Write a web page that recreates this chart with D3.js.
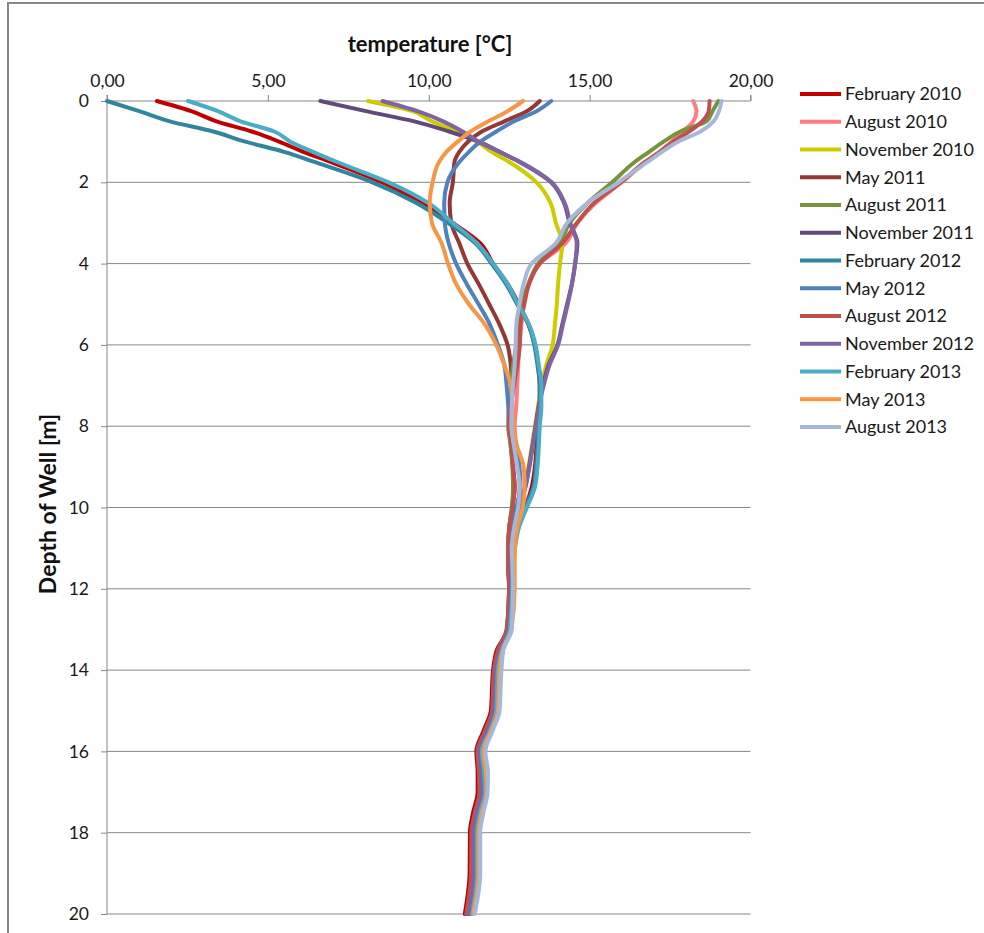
<!DOCTYPE html>
<html>
<head>
<meta charset="utf-8">
<script src="https://cdn.jsdelivr.net/npm/d3@7"></script>
<style>
  html, body { margin: 0; padding: 0; background: #fff; }
  svg { display: block; font-family: Lato, "Open Sans", sans-serif; }
</style>
</head>
<body>
<svg id="chart" width="984" height="933"></svg>
<script>
  // depth of each reading, m
  var depths = [0, 0.25, 0.5, 0.75, 1, 1.25, 1.5, 2, 2.5, 3,
    3.5, 4, 4.5, 5, 5.5, 6, 6.5, 7, 7.5, 8,
    8.5, 9, 9.5, 10, 10.5, 11, 11.5, 12, 13, 13.5,
    14, 15, 15.5, 16, 16.5, 17, 17.5, 18, 19, 20];

  // temperature per depth, °C
  var feb2010 = [1.55, 2.62, 3.4, 4.5, 5.35, 6.1, 6.95, 8.55, 9.75, 10.75,
    11.6, 12.0, 12.45, 12.8, 13.1, 13.3, 13.4, 13.45, 13.45, 13.4,
    13.35, 13.3, 13.2, 13.0, 12.75, 12.6, 12.55, 12.5, 12.45, 12.12,
    12.0, 11.93, 11.7, 11.48, 11.52, 11.52, 11.38, 11.28, 11.27, 11.12];
  var aug2010 = [18.22, 18.32, 18.22, 17.9, 17.55, 17.18, 16.75, 16.0, 15.2, 14.62,
    14.25, 13.45, 13.1, 12.95, 12.88, 12.82, 12.78, 12.75, 12.72, 12.67,
    12.72, 12.8, 12.82, 12.75, 12.6, 12.55, 12.57, 12.58, 12.5, 12.25,
    12.12, 12.06, 11.85, 11.6, 11.67, 11.68, 11.55, 11.45, 11.44, 11.28];
  var nov2010 = [8.11, 9.5, 10.1, 10.9, 11.5, 11.95, 12.5, 13.35, 13.78, 13.95,
    14.15, 14.08, 14.02, 13.98, 13.92, 13.85, 13.65, 13.5, 13.4, 13.3,
    13.2, 13.1, 12.98, 12.8, 12.62, 12.57, 12.56, 12.56, 12.48, 12.22,
    12.08, 12.02, 11.8, 11.56, 11.62, 11.64, 11.5, 11.4, 11.39, 11.23];
  var may2011 = [13.45, 13.05, 12.35, 11.65, 11.22, 10.95, 10.8, 10.75, 10.65, 10.7,
    10.95, 11.2, 11.55, 11.88, 12.2, 12.45, 12.55, 12.58, 12.55, 12.52,
    12.55, 12.62, 12.67, 12.6, 12.5, 12.47, 12.47, 12.5, 12.42, 12.15,
    12.03, 11.97, 11.74, 11.52, 11.56, 11.57, 11.43, 11.32, 11.31, 11.16];
  var aug2011 = [19.0, 18.82, 18.63, 17.82, 17.3, 16.85, 16.4, 15.7, 14.95, 14.38,
    14.07, 13.4, 13.1, 12.88, 12.8, 12.72, 12.62, 12.55, 12.5, 12.47,
    12.55, 12.6, 12.62, 12.58, 12.5, 12.47, 12.48, 12.52, 12.44, 12.18,
    12.05, 11.99, 11.76, 11.54, 11.58, 11.6, 11.45, 11.35, 11.34, 11.18];
  var nov2011 = [6.63, 8.05, 9.55, 10.63, 11.55, 12.2, 12.82, 13.8, 14.2, 14.38,
    14.62, 14.55, 14.45, 14.3, 14.15, 14.0, 13.72, 13.55, 13.42, 13.32,
    13.22, 13.12, 13.0, 12.8, 12.6, 12.55, 12.55, 12.55, 12.47, 12.2,
    12.07, 12.01, 11.78, 11.55, 11.6, 11.62, 11.47, 11.37, 11.36, 11.2];
  var feb2012 = [0.0, 1.0, 1.95, 3.3, 4.3, 5.5, 6.45, 8.25, 9.6, 10.6,
    11.45, 11.95, 12.4, 12.75, 13.1, 13.28, 13.38, 13.45, 13.45, 13.4,
    13.38, 13.33, 13.25, 13.0, 12.78, 12.65, 12.6, 12.57, 12.5, 12.25,
    12.1, 12.05, 11.85, 11.6, 11.65, 11.7, 11.55, 11.45, 11.45, 11.3];
  var may2012 = [13.81, 13.35, 12.65, 12.1, 11.6, 11.25, 10.95, 10.58, 10.48, 10.5,
    10.62, 10.85, 11.18, 11.55, 11.9, 12.15, 12.35, 12.42, 12.47, 12.5,
    12.67, 12.82, 12.85, 12.72, 12.6, 12.55, 12.55, 12.57, 12.5, 12.24,
    12.12, 12.06, 11.84, 11.6, 11.66, 11.68, 11.54, 11.44, 11.43, 11.27];
  var aug2012 = [18.73, 18.7, 18.5, 18.1, 17.6, 17.18, 16.72, 15.97, 15.15, 14.6,
    14.15, 13.45, 13.12, 12.97, 12.85, 12.83, 12.75, 12.65, 12.55, 12.5,
    12.58, 12.62, 12.67, 12.6, 12.5, 12.47, 12.47, 12.5, 12.43, 12.16,
    12.03, 11.97, 11.75, 11.52, 11.56, 11.58, 11.44, 11.33, 11.32, 11.17];
  var nov2012 = [8.56, 9.65, 10.45, 11.05, 11.55, 12.2, 12.85, 13.82, 14.22, 14.4,
    14.6, 14.55, 14.45, 14.32, 14.17, 14.02, 13.75, 13.57, 13.43, 13.33,
    13.23, 13.13, 13.0, 12.82, 12.62, 12.57, 12.56, 12.56, 12.49, 12.23,
    12.09, 12.03, 11.81, 11.57, 11.63, 11.65, 11.5, 11.4, 11.4, 11.24];
  var feb2013 = [2.52, 3.45, 4.15, 5.2, 5.7, 6.4, 7.15, 8.75, 9.97, 10.75,
    11.5, 12.0, 12.45, 12.78, 13.12, 13.32, 13.42, 13.5, 13.5, 13.45,
    13.42, 13.38, 13.3, 13.05, 12.8, 12.68, 12.62, 12.6, 12.52, 12.28,
    12.15, 12.1, 11.9, 11.65, 11.72, 11.75, 11.6, 11.5, 11.5, 11.35];
  var may2013 = [12.93, 12.45, 11.85, 11.3, 10.9, 10.55, 10.32, 10.12, 10.03, 10.1,
    10.4, 10.6, 10.85, 11.25, 11.75, 12.1, 12.35, 12.55, 12.6, 12.62,
    12.75, 12.95, 12.98, 12.92, 12.75, 12.68, 12.67, 12.67, 12.57, 12.3,
    12.2, 12.15, 11.93, 11.7, 11.78, 11.8, 11.65, 11.55, 11.55, 11.38];
  var aug2013 = [19.1, 19.02, 18.85, 18.45, 17.75, 17.25, 16.8, 15.9, 14.95, 14.3,
    13.95, 13.2, 12.95, 12.82, 12.72, 12.7, 12.67, 12.62, 12.58, 12.57,
    12.65, 12.75, 12.83, 12.78, 12.65, 12.58, 12.6, 12.62, 12.58, 12.32,
    12.26, 12.2, 11.98, 11.76, 11.84, 11.83, 11.7, 11.6, 11.6, 11.43];

  var seriesNames = ["February 2010", "August 2010", "November 2010", "May 2011",
    "August 2011", "November 2011", "February 2012", "May 2012", "August 2012",
    "November 2012", "February 2013", "May 2013", "August 2013"];
  var seriesValues = [feb2010, aug2010, nov2010, may2011, aug2011, nov2011,
    feb2012, may2012, aug2012, nov2012, feb2013, may2013, aug2013];
  var seriesColors = ["#C00000", "#FF7C80", "#CCCC00", "#953735", "#77933C", "#604A7B",
    "#31859C", "#4F81BD", "#C0504D", "#8064A2", "#4BACC6", "#F79646", "#A6B8D9"];

  var tempTicks = [0, 5, 10, 15, 20];
  var depthTicks = [0, 2, 4, 6, 8, 10, 12, 14, 16, 18, 20];

  var svg = d3.select("#chart"),
    margin = {top: 101, left: 107},
    width = 643.5, height = 813,
    axisColor = "#878787";

  // outer frame (cut off by the picture on the right and bottom)
  svg.append("rect")
    .attr("x", 8).attr("y", 3)
    .attr("width", 1200).attr("height", 1200)
    .attr("fill", "none")
    .attr("stroke", axisColor)
    .attr("stroke-width", 2);

  var g = svg.append("g")
    .attr("transform", "translate(" + margin.left + "," + margin.top + ")");

  var x = d3.scaleLinear().domain([0, 20]).range([0, width]);
  var y = d3.scaleLinear().domain([0, 20]).range([0, height]);

  // horizontal grid
  g.append("g")
    .selectAll("line")
    .data(depthTicks.slice(1))
    .join("line")
      .attr("x1", 0).attr("x2", width)
      .attr("y1", function(d) { return y(d); })
      .attr("y2", function(d) { return y(d); })
      .attr("stroke", axisColor)
      .attr("stroke-width", 1);

  var xAxis = g.append("g")
    .call(d3.axisTop(x).tickValues(tempTicks).tickSize(6).tickPadding(8)
      .tickFormat(function(d) { return d3.format(".2f")(d).replace(".", ","); }));

  var yAxis = g.append("g")
    .call(d3.axisLeft(y).tickValues(depthTicks).tickSize(6).tickPadding(12)
      .tickFormat(d3.format("d")));

  [xAxis, yAxis].forEach(function(a) {
    a.select(".domain").attr("stroke", axisColor);
    a.selectAll(".tick line").attr("stroke", axisColor);
    a.selectAll(".tick text")
      .attr("fill", "#1a1a1a")
      .style("font-family", "Lato, sans-serif")
      .style("font-size", "17.5px");
  });
  yAxis.select(".domain").attr("d", "M0,0V" + height);
  xAxis.select(".domain").attr("d", "M0,-6V0H" + width + "V-6");

  var line = d3.line()
    .x(function(d) { return x(d[1]); })
    .y(function(d) { return y(d[0]); })
    .curve(d3.curveMonotoneY);

  g.append("g")
    .selectAll("path")
    .data(seriesValues)
    .join("path")
      .attr("fill", "none")
      .attr("stroke", function(d, i) { return seriesColors[i]; })
      .attr("stroke-width", 4)
      .attr("stroke-linejoin", "round")
      .attr("stroke-linecap", "round")
      .attr("d", function(vals) {
        return line(depths.map(function(dep, j) { return [dep, vals[j]]; }));
      });

  // axis titles
  svg.append("text")
    .attr("x", 430).attr("y", 52)
    .attr("text-anchor", "middle")
    .style("font-weight", "bold")
    .style("font-size", "22px")
    .attr("fill", "#111")
    .text("temperature [°C]");

  svg.append("text")
    .attr("transform", "translate(56,504) rotate(-90)")
    .attr("text-anchor", "middle")
    .style("font-weight", "bold")
    .style("font-size", "23px")
    .attr("fill", "#111")
    .text("Depth of Well [m]");

  // legend
  var legend = svg.append("g")
    .attr("transform", "translate(800,94)");

  var item = legend.selectAll("g")
    .data(seriesNames)
    .join("g")
      .attr("transform", function(d, i) { return "translate(0," + (i * 27.75) + ")"; });

  item.append("line")
    .attr("x1", 0).attr("x2", 41)
    .attr("stroke", function(d, i) { return seriesColors[i]; })
    .attr("stroke-width", 4);

  item.append("text")
    .attr("x", 45).attr("dy", "0.35em")
    .style("font-size", "18px")
    .attr("fill", "#1a1a1a")
    .text(function(d) { return d; });
</script>
</body>
</html>
